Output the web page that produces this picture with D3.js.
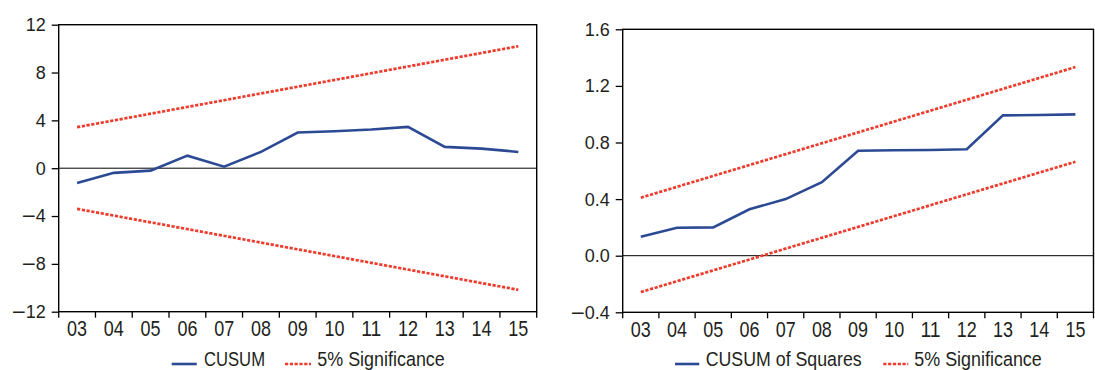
<!DOCTYPE html>
<html><head><meta charset="utf-8">
<script src="https://cdn.jsdelivr.net/npm/d3@7"></script>
<style>
body{margin:0;background:#fff;}
svg text{font-family:"Liberation Sans Narrow","Arial Narrow","Liberation Sans",Arial,sans-serif;fill:#231f20;}
</style></head>
<body><svg id="c" width="1095" height="370"></svg>
<script>
const categories = ["03","04","05","06","07","08","09","10","11","12","13","14","15"];
// Left panel: CUSUM
const cusum = [-1.23,-0.39,-0.2,1.05,0.13,1.36,2.98,3.09,3.23,3.45,1.78,1.64,1.36];
const cusumUpper = [{c:"03",v:3.43},{c:"15",v:10.2}];
const cusumLower = [{c:"03",v:-3.4},{c:"15",v:-10.17}];
const cusumTicks = [-12,-8,-4,0,4,8,12];
// Right panel: CUSUM of squares
const cusumSq = [0.134,0.198,0.2,0.328,0.4,0.52,0.742,0.745,0.747,0.752,0.992,0.994,0.999];
const sqUpper = [{c:"03",v:0.41},{c:"15",v:1.333}];
const sqLower = [{c:"03",v:-0.257},{c:"15",v:0.664}];
const sqTicks = [-0.4,0,0.4,0.8,1.2,1.6];
const legendLeft = ["CUSUM","5% Significance"];
const legendRight = ["CUSUM of Squares","5% Significance"];

const BLUE = "#2c4a94", RED = "#ef3b2c";
const DASH = "3.2,1.6";
const svg = d3.select("#c");

function panel(cfg){
  const g = svg.append("g");
  const x = d3.scaleBand().domain(categories).range([cfg.x0,cfg.x1]).paddingInner(0).paddingOuter(0);
  const y = d3.scaleLinear().domain(cfg.domain).range([cfg.y1,cfg.y0]);
  const cx = c => x(c) + x.bandwidth()/2;
  // zero line
  g.append("line").attr("x1",cfg.x0).attr("x2",cfg.x1).attr("y1",y(0)).attr("y2",y(0))
    .attr("stroke","#000").attr("stroke-width",1);
  // bounds
  const lineB = d3.line().x(d=>cx(d.c)).y(d=>y(d.v));
  [cfg.upper,cfg.lower].forEach(b=>{
    g.append("path").attr("d",lineB(b)).attr("fill","none").attr("stroke",RED)
      .attr("stroke-width",2.7).attr("stroke-dasharray",DASH);
  });
  // series
  const line = d3.line().x((d,i)=>cx(categories[i])).y(d=>y(d));
  g.append("path").attr("d",line(cfg.values)).attr("fill","none").attr("stroke",BLUE)
    .attr("stroke-width",2.6).attr("stroke-linejoin","miter");
  // frame
  g.append("rect").attr("x",cfg.x0).attr("y",cfg.y0).attr("width",cfg.x1-cfg.x0).attr("height",cfg.y1-cfg.y0)
    .attr("fill","none").attr("stroke","#000").attr("stroke-width",1.4);
  // y axis
  const ya = g.append("g").attr("transform",`translate(${cfg.x0},0)`)
    .call(d3.axisLeft(y).tickValues(cfg.ticks).tickFormat(cfg.fmt).tickSize(7).tickPadding(6));
  ya.select(".domain").remove();
  ya.selectAll(".tick line").attr("stroke","#000").attr("stroke-width",1.3);
  ya.selectAll("text").attr("font-size",18).attr("dy","0.33em").attr("fill","#231f20")
    .each(function(d){
      const t = d3.select(this); const s = t.text();
      if (s.startsWith("\u2212")) {
        t.text(null);
        t.append("tspan").attr("textLength",14).attr("lengthAdjust","spacingAndGlyphs").text("\u2212");
        t.append("tspan").text(s.slice(1));
      }
    });
  // x axis: ticks at band edges, labels centred
  const edges = categories.map(c=>x(c)).concat([x.range()[1]]);
  g.selectAll(".xt").data(edges).enter().append("line")
    .attr("x1",d=>d).attr("x2",d=>d).attr("y1",cfg.y1).attr("y2",cfg.y1+6)
    .attr("stroke","#000").attr("stroke-width",1.3);
  g.selectAll(".xl").data(categories).enter().append("text")
    .attr("x",d=>cx(d)).attr("y",cfg.y1+24.5).attr("text-anchor","middle")
    .attr("font-size",21.5).attr("textLength",20).attr("lengthAdjust","spacingAndGlyphs").text(d=>d);
  // legend
  const ly = 364;
  const L = cfg.legend;
  g.append("line").attr("x1",L.b0).attr("x2",L.b1).attr("y1",ly).attr("y2",ly).attr("stroke",BLUE).attr("stroke-width",2.6);
  g.append("text").attr("x",L.bt).attr("y",366).attr("font-size",20.5)
    .attr("textLength",L.bw).attr("lengthAdjust","spacingAndGlyphs").text(cfg.legendText[0]);
  g.append("line").attr("x1",L.r0).attr("x2",L.r1).attr("y1",ly).attr("y2",ly).attr("stroke",RED).attr("stroke-width",2.7).attr("stroke-dasharray",DASH);
  g.append("text").attr("x",L.rt).attr("y",366).attr("font-size",20.5)
    .attr("textLength",L.rw).attr("lengthAdjust","spacingAndGlyphs").text(cfg.legendText[1]);
}

panel({x0:58.7,x1:536.7,y0:24.7,y1:311.7,domain:[-12,12],values:cusum,upper:cusumUpper,lower:cusumLower,
  ticks:cusumTicks,fmt:d3.format("d"),legendText:legendLeft,
  legend:{b0:171.7,b1:196.7,bt:204,bw:61,r0:285,r1:311,rt:317.3,rw:127.5}});
panel({x0:622.7,x1:1093.5,y0:29.3,y1:312.3,domain:[-0.4,1.6],values:cusumSq,upper:sqUpper,lower:sqLower,
  ticks:sqTicks,fmt:d3.format(".1f"),legendText:legendRight,
  legend:{b0:675,b1:699.3,bt:705.7,bw:156,r0:883.3,r1:908.3,rt:914.3,rw:127.5}});
</script></body></html>
